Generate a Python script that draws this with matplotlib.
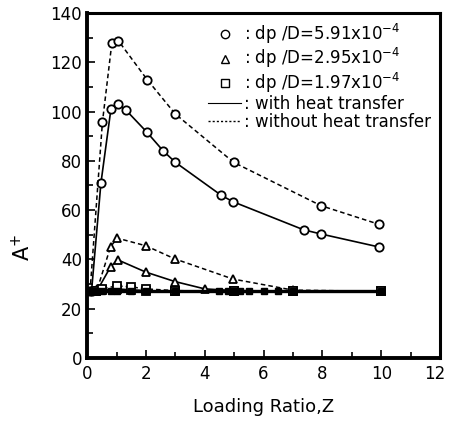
import matplotlib
matplotlib.use("Agg")
import matplotlib.pyplot as plt
import matplotlib.transforms as mtransforms
from matplotlib.lines import Line2D
from matplotlib.ticker import MultipleLocator

# circles dp/D = 5.91e-4
c_with_x = [0.15, 0.47, 0.81, 1.04, 1.32, 2.02, 2.59, 3.0, 4.56, 4.96, 7.36, 7.95, 9.93]
c_with_y = [27, 71, 101, 103, 100.6, 91.8, 84, 79.4, 66, 63.4, 52, 50.3, 45]
c_wo_x = [0.1, 0.52, 0.84, 1.06, 2.04, 3.0, 4.98, 7.95, 9.93]
c_wo_y = [27, 95.6, 127.7, 128.8, 113, 99, 79.4, 61.8, 54.2]
# triangles dp/D = 2.95e-4
t_with_x = [0.35, 0.8, 1.04, 2.0, 2.98, 4.0, 5.0, 7.0, 10.0]
t_with_y = [27.5, 37, 39.8, 34.8, 31, 28, 27.3, 27, 27]
t_wo_x = [0.35, 0.8, 1.03, 2.0, 2.98, 4.96, 7.0, 10.0]
t_wo_y = [28, 45.2, 48.6, 45.5, 40.2, 32, 27.5, 27]
# squares dp/D = 1.97e-4
s_with_x = [0.3, 0.5, 1.0, 1.5, 2.0, 3.0, 5.0, 7.0, 10.0]
s_with_y = [27, 27.5, 28, 27.6, 27.3, 27, 27, 27, 27]
s_wo_x = [0.3, 0.5, 1.0, 1.5, 2.0, 3.0, 5.0, 7.0, 10.0]
s_wo_y = [27, 28, 29.2, 28.8, 28, 27.3, 27, 27, 27]
# baseline points
b_x = [0.0, 0.1, 0.2, 0.3, 0.5, 0.8, 1.0, 1.5, 2.0, 3.0, 4.5, 4.8, 5.0, 5.2, 5.5, 6.0, 6.5, 7.0, 10.0]
b_y = [27] * len(b_x)

x_ticks = [0, 2, 4, 6, 8, 10, 12]
y_ticks = [0, 20, 40, 60, 80, 100, 120, 140]

legend_labels = [r": dp /D=5.91x10$^{-4}$",
                 r": dp /D=2.95x10$^{-4}$",
                 r": dp /D=1.97x10$^{-4}$",
                 ": with heat transfer",
                 ": without heat transfer"]

fig = plt.figure(figsize=(4.49, 4.21), dpi=100)
ax = fig.add_axes([0.194, 0.150, 0.786, 0.819])

DASH = (0, (3, 2))
mk = dict(markerfacecolor="white", markeredgecolor="black", markersize=6, markeredgewidth=1.3, color="black")
ax.plot(c_with_x, c_with_y, ls="-", marker="o", lw=1.2, **mk)
ax.plot(c_wo_x, c_wo_y, ls=DASH, marker="o", lw=1.1, **mk)
ax.plot(t_with_x, t_with_y, ls="-", marker="^", lw=1.2, **mk)
ax.plot(t_wo_x, t_wo_y, ls=DASH, marker="^", lw=1.1, **mk)
ax.plot(s_with_x, s_with_y, ls="-", marker="s", lw=1.2, **mk)
ax.plot(s_wo_x, s_wo_y, ls=DASH, marker="s", lw=1.1, **mk)
ax.plot(b_x, b_y, ls="-", color="black", lw=2.4, marker="s", markersize=4.5, markerfacecolor="black")

ax.set_xlim(0, 12)
ax.set_ylim(0, 140)
ax.set_xticks(x_ticks)
ax.set_yticks(y_ticks)
ax.xaxis.set_minor_locator(MultipleLocator(1))
ax.yaxis.set_minor_locator(MultipleLocator(10))
ax.tick_params(which="both", direction="in", top=False, right=False, labelsize=12, width=1.2)
ax.tick_params(which="major", length=6)
ax.tick_params(which="minor", length=4)
ax.tick_params(axis="x", pad=5)
for s in ax.spines.values():
    s.set_linewidth(2.2)
ax.spines["left"].set_linewidth(2.8)
ax.spines["bottom"].set_linewidth(2.8)

last = ax.xaxis.get_major_ticks()[-1].label1
last.set_transform(last.get_transform() + mtransforms.ScaledTranslation(-4 / 72, 0, fig.dpi_scale_trans))

ax.set_xlabel("Loading Ratio,Z", fontsize=13, labelpad=11)
ax.set_ylabel(r"A$^{+}$", fontsize=15)
ax.yaxis.set_label_coords(-0.15, 0.32)

handles = [Line2D([], [], ls="none", marker="o", markerfacecolor="white", markeredgecolor="black", markersize=6),
           Line2D([], [], ls="none", marker="^", markerfacecolor="white", markeredgecolor="black", markersize=6),
           Line2D([], [], ls="none", marker="s", markerfacecolor="white", markeredgecolor="black", markersize=6),
           Line2D([], [], ls="-", color="black", lw=0.8),
           Line2D([], [], ls=(0, (1.5, 1.5)), color="black", lw=1.0)]
leg = ax.legend(handles, legend_labels, loc="upper right", frameon=False, fontsize=12,
                handlelength=2.0, handletextpad=0.15, labelspacing=0.0, borderaxespad=0.15)

fig.savefig("out.png", dpi=100)
